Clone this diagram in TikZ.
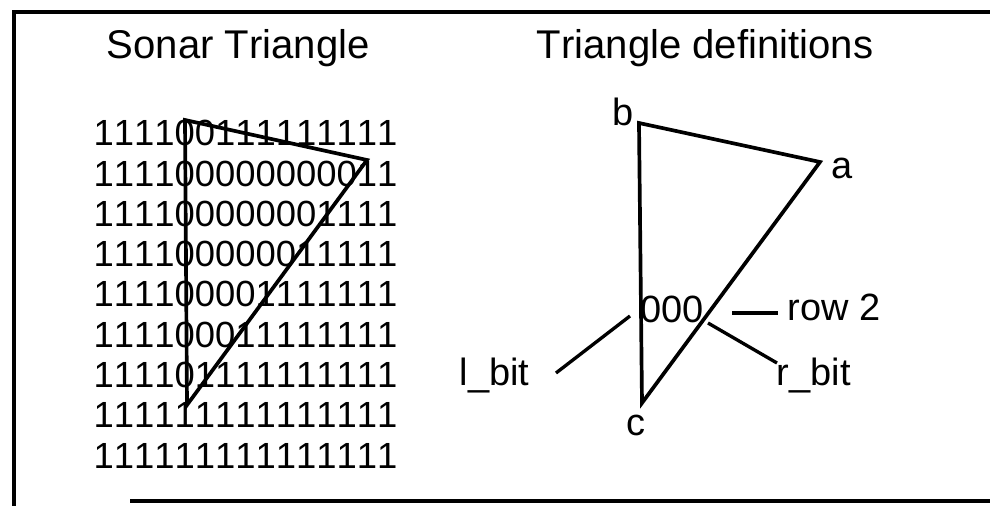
\documentclass[tikz,border=0pt]{standalone}
\usepackage{fontspec}
\setmainfont{Liberation Sans}[Kerning=Off]
\usetikzlibrary{positioning}

\tikzset{
  bitrow/.style={anchor=base west, inner sep=0pt, font=\fontsize{10.35}{12}\selectfont},
  heading/.style={anchor=base west, inner sep=0pt, font=\fontsize{11.4}{13}\selectfont},
  tag/.style={anchor=base west, inner sep=0pt, font=\fontsize{10.8}{13}\selectfont},
  edge/.style={line width=1.05pt, line join=miter},
  lead/.style={line width=0.95pt},
}

\begin{document}
\begin{tikzpicture}[x=0.01cm, y=-0.01cm]
  \useasboundingbox (0,0) rectangle (990,506);
  % frame
  \draw[line width=1.25pt] (990,12) -- (14,12) -- (14,506);
  \draw[line width=1.25pt] (130,501) -- (990,501);

  % left panel: sonar bitmap with the triangle on top
  \node[heading] (sonartitle) at (106,58) {Sonar Triangle};
  \foreach \bits [count=\i from 0] in {111100111111111, 111100000000011,
      111100000001111, 111100000011111, 111100001111111, 111100011111111,
      111101111111111, 111111111111111, 111111111111111}
    \node[bitrow] (row\i) at (93,146+40.25*\i) {\bits};
  \coordinate (sb) at (185,120);
  \coordinate (sa) at (367,160);
  \coordinate (sc) at (187,405);
  \draw[edge] (sb) -- (sa) -- (sc) -- cycle;

  % right panel: named corners and the bits of row 2
  \node[heading] (deftitle) at (536,58) {Triangle definitions};
  \coordinate (b) at (639,123);
  \coordinate (a) at (820,162);
  \coordinate (c) at (642,403);
  \draw[edge] (b) -- (a) -- (c) -- cycle;
  \node[tag] (blabel) at (612,125) {b};
  \node[tag] (alabel) at (831,178) {a};
  \node[tag] (clabel) at (626,435) {c};

  \node[tag] (zeros) at (640,322) {000};
  \node[tag] (rowtwo) at (787,320) {row 2};
  \node[tag] (lbit) at (459,385) {l\_bit};
  \node[tag] (rbit) at (776,385) {r\_bit};
  \coordinate (lfoot) at (556,373);
  \coordinate (ltip) at (630,316);
  \coordinate (rfoot) at (777,363);
  \coordinate (rtip) at (708,323);
  \coordinate (wfoot) at (732,313);
  \coordinate (wtip) at (778,313);
  \draw[lead] (lfoot) -- (ltip);
  \draw[lead] (rtip) -- (rfoot);
  \draw[lead] (wfoot) -- (wtip);
\end{tikzpicture}
\end{document}
